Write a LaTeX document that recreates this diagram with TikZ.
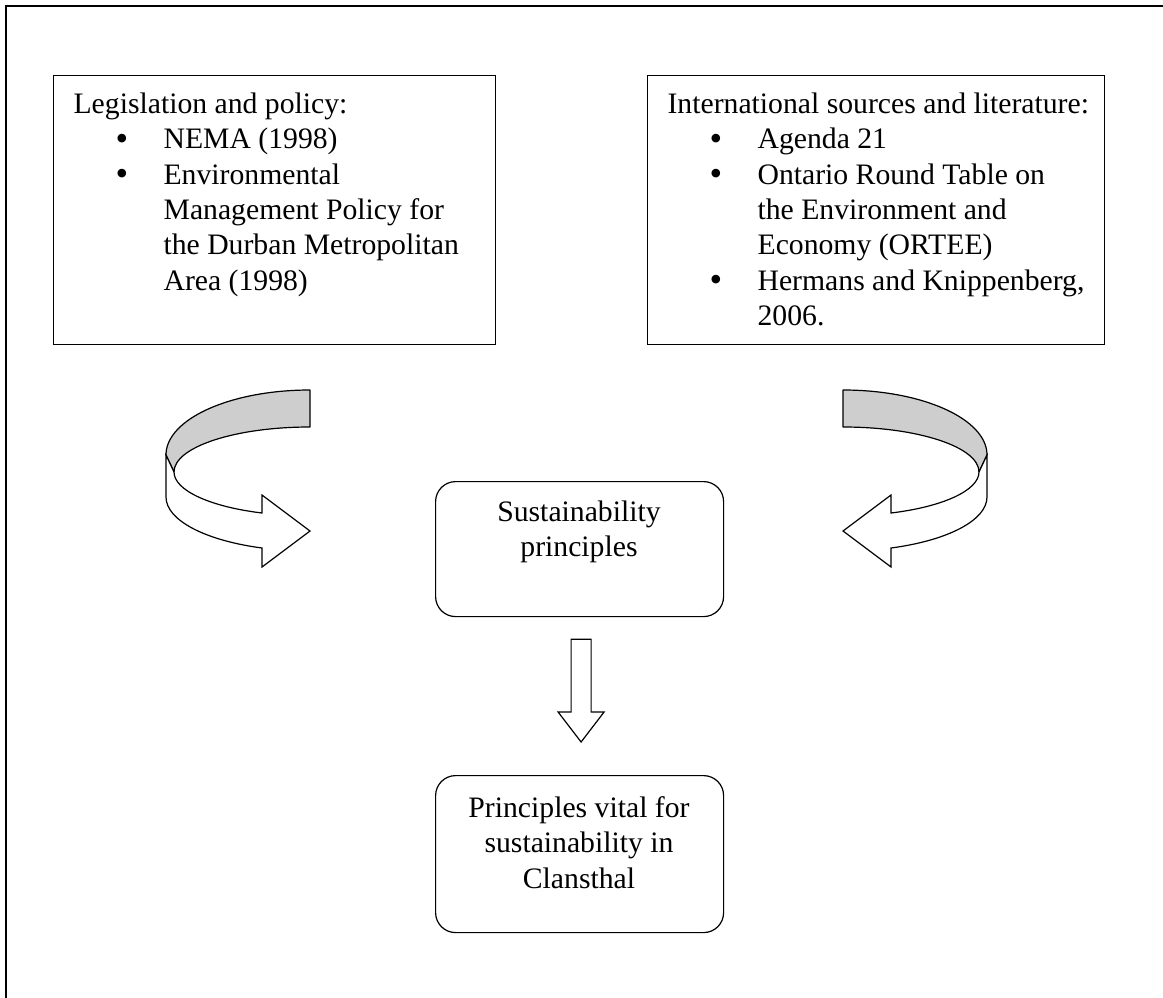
\documentclass[tikz,border=0pt]{standalone}
\usepackage{fontspec}
\setmainfont{Liberation Serif}
\usetikzlibrary{calc}
\definecolor{bandgray}{RGB}{206,206,206}
\newcommand\mybul{{\fontsize{36}{35.3}\selectfont\raisebox{-1.5pt}{\textbullet}}}
\newcommand\bitem[1]{\makebox[90pt][l]{\hspace*{42pt}\mybul}#1}
\newcommand\cont[1]{\hspace*{90pt}#1}
\begin{document}
\begin{tikzpicture}[x=1pt,y=-1pt,line width=1.2pt,
  frameline/.style={line width=1.8pt},
  sqbox/.style={draw,rectangle,inner sep=0pt,anchor=north west},
  rbox/.style={draw,rectangle,rounded corners=20pt,inner sep=0pt,anchor=north west},
  txt/.style={inner sep=0pt,anchor=north west,align=left,font=\fontsize{29.7}{35.3}\selectfont},
  ctxt/.style={inner sep=0pt,anchor=north,align=center,font=\fontsize{29.7}{35.3}\selectfont},
  ribbonback/.style={draw,fill=bandgray,line join=round},
  ribbonfront/.style={draw,fill=white,line join=miter},
  blockarrow/.style={draw,fill=white,line join=miter}]
\useasboundingbox (0,0) rectangle (1163,998);
% outer frame (only top and left edges visible)
\draw[frameline] (6,998) -- (6,6) -- (1163,6);
% top boxes
\node[sqbox,minimum width=442pt,minimum height=269pt] (leg) at (53,75) {};
\node[sqbox,minimum width=457pt,minimum height=269pt] (intl) at (647,75) {};
\node[txt] (legtxt) at (73,89) {\rule{0pt}{24pt}Legislation and policy:\\
  \bitem{NEMA (1998)}\\
  \bitem{Environmental}\\
  \cont{Management Policy for}\\
  \cont{the Durban Metropolitan}\\
  \cont{Area (1998)}};
\node[txt] (intltxt) at (667,89) {\rule{0pt}{24pt}International sources and literature:\\
  \bitem{Agenda 21}\\
  \bitem{Ontario Round Table on}\\
  \cont{the Environment and}\\
  \cont{Economy (ORTEE)}\\
  \bitem{Hermans and Knippenberg,}\\
  \cont{2006.}};
% centre boxes
\node[rbox,minimum width=288pt,minimum height=135pt] (sp) at (435,481) {};
\node[ctxt] (sptxt) at (579,497) {\rule{0pt}{24pt}Sustainability\\principles};
\node[rbox,minimum width=288pt,minimum height=157pt] (pv) at (435,775) {};
\node[ctxt] (pvtxt) at (579,793) {\rule{0pt}{24pt}Principles vital for\\sustainability in\\Clansthal};
% down block arrow from sp to pv
\coordinate (da) at ($(sp.south)+(1.5,22)$);
\coordinate (db) at ($(pv.north)+(1.5,-33)$);
\draw[blockarrow] ($(da)+(-10,0)$) -- ($(da)+(10,0)$) -- ($(db)+(10,-30)$) -- ($(db)+(23,-30)$)
  -- (db) -- ($(db)+(-23,-30)$) -- ($(db)+(-10,-30)$) -- cycle;
% curved arrows (left, and mirrored right)
\foreach \sx/\ox in {1/0, -1/1153} {
\begin{scope}[shift={(\ox,0)},xscale=\sx]
  \draw[ribbonback] (310,390) .. controls (230.5,390) and (166,419) .. (166,455)
     -- (174,472) .. controls (174,447) and (235,427) .. (310,427) -- cycle;
  \draw[ribbonfront] (166,455) -- (166,497)
     .. controls (166,520) and (204.6,540.4) .. (262,548)
     -- (262,567) -- (310,531) -- (262,495) -- (262,513)
     .. controls (209,506.6) and (174,490) .. (174,472) -- cycle;
\end{scope}
}
\end{tikzpicture}
\end{document}
